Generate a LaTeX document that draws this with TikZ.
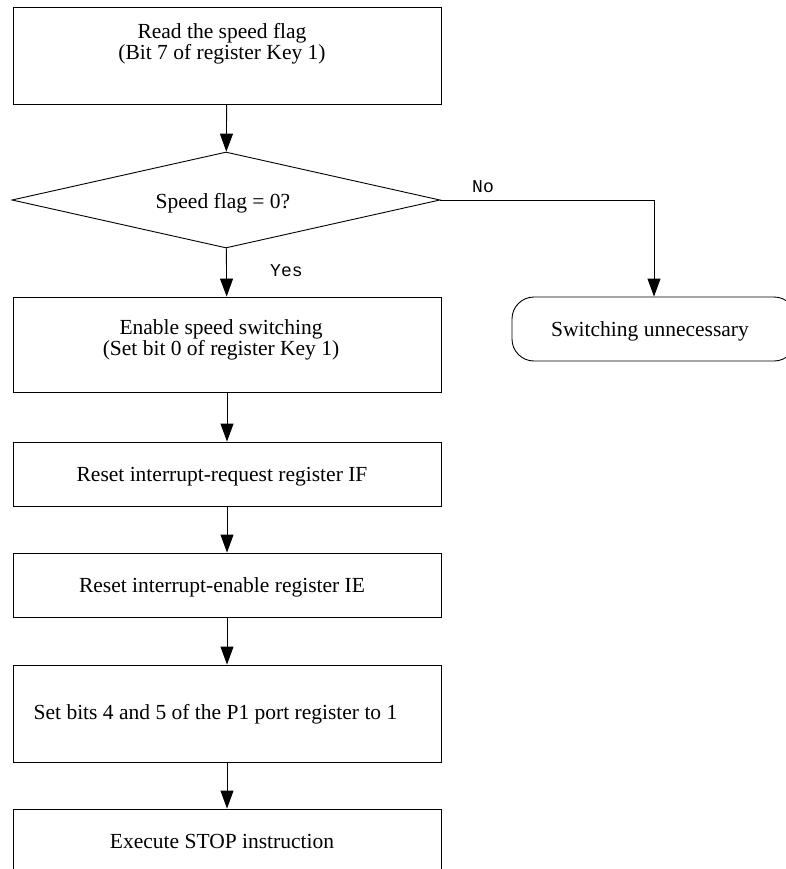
\documentclass[tikz,border=0pt]{standalone}
\usepackage{fontspec}
\setmainfont{Liberation Serif}
\setmonofont{Liberation Mono}
\usetikzlibrary{shapes.geometric,arrows.meta}

\begin{document}
\begin{tikzpicture}[
  x=1pt, y=-1pt,
  every node/.style={font=\fontsize{21.5}{18.5}\selectfont},
  box/.style={draw, line width=0.9pt, minimum width=428pt, inner sep=0pt},
  dec/.style={draw, diamond, line width=0.9pt, minimum width=428pt, minimum height=96pt, inner sep=0pt},
  term/.style={draw, line width=0.9pt, rounded corners=22pt, minimum width=284pt, minimum height=64pt, inner sep=0pt},
  tx/.style={align=center, inner sep=0pt, anchor=base},
  lb/.style={font=\ttfamily\fontsize{18}{18}\selectfont, inner sep=0pt, anchor=base west},
  ar/.style={-{Triangle[length=18pt, width=13pt]}, line width=0.9pt}]
\useasboundingbox (0,0) rectangle (786,869);

% ---------------- main column ----------------
\node[box, minimum height=97pt] (read) at (227, 55.5) {};
\node[tx] (read-t) at (222, 59.5) {Read the speed flag\\(Bit 7 of register Key 1)};

\node[dec] (check) at (226, 200) {};
\node[tx] (check-t) at (223, 208) {Speed flag = 0?};

\node[box, minimum height=95pt] (enable) at (227, 344.5) {};
\node[tx] (enable-t) at (221, 355.5) {Enable speed switching\\(Set bit 0 of register Key 1)};

\node[box, minimum height=64pt] (resetif) at (227, 474) {};
\node[tx] (resetif-t) at (222, 481.5) {Reset interrupt-request register IF};

\node[box, minimum height=64pt] (resetie) at (227, 585) {};
\node[tx] (resetie-t) at (222, 592.5) {Reset interrupt-enable register IE};

\node[box, minimum height=97pt] (setp1) at (227, 713.5) {};
\node[tx] (setp1-t) at (215.5, 719.5) {Set bits 4 and 5 of the P1 port register to 1};

\node[box, minimum height=96pt] (stop) at (227, 857) {};
\node[tx] (stop-t) at (222, 848.5) {Execute STOP instruction};

% ---------------- side branch ----------------
\node[term] (switch) at (654, 329) {};
\node[tx] (switch-t) at (650, 336.5) {Switching unnecessary};

\node[lb] (yes) at (270, 276.5) {Yes};
\node[lb] (no) at (472, 192.5) {No};

% ---------------- connectors ----------------
\draw[ar] (read) -- (check);
\draw[ar] (check) -- (enable);
\draw[ar] (enable) -- (resetif);
\draw[ar] (resetif) -- (resetie);
\draw[ar] (resetie) -- (setp1);
\draw[ar] (setp1) -- (stop);
\draw[ar] (check.east) -| (switch.north);
\end{tikzpicture}
\end{document}
